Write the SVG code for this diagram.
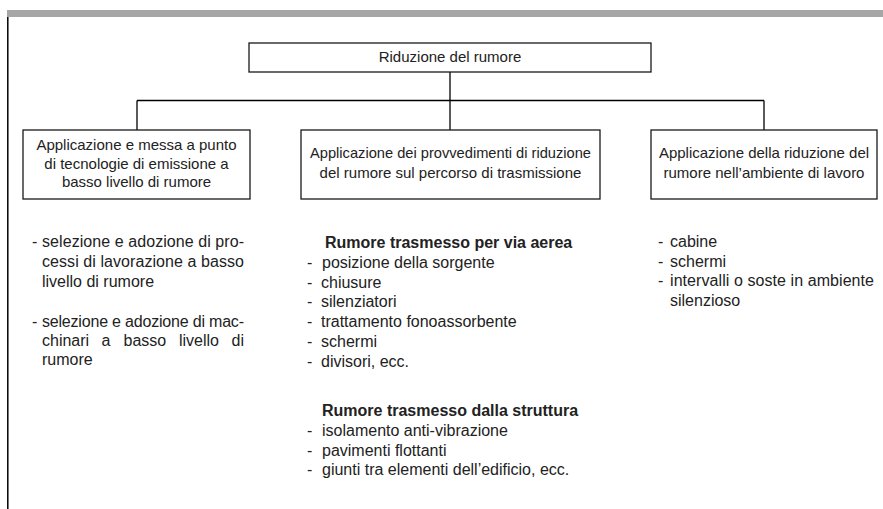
<svg xmlns="http://www.w3.org/2000/svg" width="883" height="509" viewBox="0 0 883 509">
<style>
.box{fill:#fff;stroke:#1a1a1a;stroke-width:1.3}
.conn{stroke:#000;stroke-width:1.3;fill:none}
.bt{font-family:"Liberation Sans",Arial,sans-serif;font-size:15px;fill:#222;text-anchor:middle}
.lt{font-family:"Liberation Sans",Arial,sans-serif;font-size:16px;fill:#222}
.hd{font-family:"Liberation Sans",Arial,sans-serif;font-size:16px;font-weight:bold;fill:#222}
</style>
<rect x="0" y="0" width="883" height="509" fill="#fff"/>
<rect x="7" y="10" width="876" height="7" fill="#a6a6a6"/>
<line x1="7.8" y1="17" x2="7.8" y2="509" stroke="#000" stroke-width="1.5"/>
<g id="connectors">
<line class="conn" x1="450" y1="72" x2="450" y2="100.5"/>
<line class="conn" x1="137" y1="100.5" x2="764" y2="100.5"/>
<line class="conn" x1="137" y1="100.5" x2="137" y2="130"/>
<line class="conn" x1="450" y1="100.5" x2="450" y2="130"/>
<line class="conn" x1="764" y1="100.5" x2="764" y2="130"/>
</g>
<g id="root">
<rect class="box" x="249" y="43" width="402" height="29"/>
<text class="bt" x="450" y="62">Riduzione del rumore</text>
</g>
<g id="emissione">
<rect class="box" x="23" y="130" width="227" height="69"/>
<text class="bt" x="136.5" y="150">Applicazione e messa a punto</text>
<text class="bt" x="136.5" y="168.5">di tecnologie di emissione a</text>
<text class="bt" x="136.5" y="187">basso livello di rumore</text>
</g>
<g id="trasmissione">
<rect class="box" x="301" y="130" width="299" height="69"/>
<text class="bt" x="450.5" y="158" textLength="281" lengthAdjust="spacingAndGlyphs">Applicazione dei provvedimenti di riduzione</text>
<text class="bt" x="450.5" y="178">del rumore sul percorso di trasmissione</text>
</g>
<g id="ambiente">
<rect class="box" x="651" y="130" width="226" height="69"/>
<text class="bt" x="764" y="158">Applicazione della riduzione del</text>
<text class="bt" x="764" y="178">rumore nell’ambiente di lavoro</text>
</g>
<g id="list-emissione">
<text class="lt" x="32" y="247">-</text>
<text class="lt" x="42" y="247" textLength="202" lengthAdjust="spacing">selezione e adozione di pro-</text>
<text class="lt" x="42" y="267" textLength="202" lengthAdjust="spacing">cessi di lavorazione a basso</text>
<text class="lt" x="42" y="287">livello di rumore</text>
<text class="lt" x="32" y="327">-</text>
<text class="lt" x="42" y="327" textLength="202" lengthAdjust="spacing">selezione e adozione di mac-</text>
<text class="lt" y="346"><tspan x="42">chinari</tspan><tspan x="101.5">a</tspan><tspan x="123.5">basso</tspan><tspan x="179">livello</tspan><tspan x="231.5">di</tspan></text>
<text class="lt" x="42" y="365">rumore</text>
</g>
<g id="list-trasmissione">
<text class="hd" x="325" y="248">Rumore trasmesso per via aerea</text>
<text class="lt" x="307" y="268">-</text><text class="lt" x="322" y="268">posizione della sorgente</text>
<text class="lt" x="307" y="287.5">-</text><text class="lt" x="321" y="287.5">chiusure</text>
<text class="lt" x="307" y="307">-</text><text class="lt" x="321" y="307">silenziatori</text>
<text class="lt" x="307" y="327">-</text><text class="lt" x="321" y="327">trattamento fonoassorbente</text>
<text class="lt" x="307" y="346.5">-</text><text class="lt" x="321" y="346.5">schermi</text>
<text class="lt" x="307" y="366.5">-</text><text class="lt" x="321" y="366.5">divisori, ecc.</text>
<text class="hd" x="322" y="416">Rumore trasmesso dalla struttura</text>
<text class="lt" x="307" y="436">-</text><text class="lt" x="322" y="436">isolamento anti-vibrazione</text>
<text class="lt" x="307" y="455.5">-</text><text class="lt" x="322" y="455.5">pavimenti flottanti</text>
<text class="lt" x="307" y="475">-</text><text class="lt" x="322" y="475">giunti tra elementi dell’edificio, ecc.</text>
</g>
<g id="list-ambiente">
<text class="lt" x="658" y="247">-</text><text class="lt" x="670" y="247">cabine</text>
<text class="lt" x="658" y="266.5">-</text><text class="lt" x="670" y="266.5">schermi</text>
<text class="lt" x="658" y="286">-</text><text class="lt" x="670" y="286" textLength="204" lengthAdjust="spacing">intervalli o soste in ambiente</text>
<text class="lt" x="670" y="305.5">silenzioso</text>
</g>
</svg>
